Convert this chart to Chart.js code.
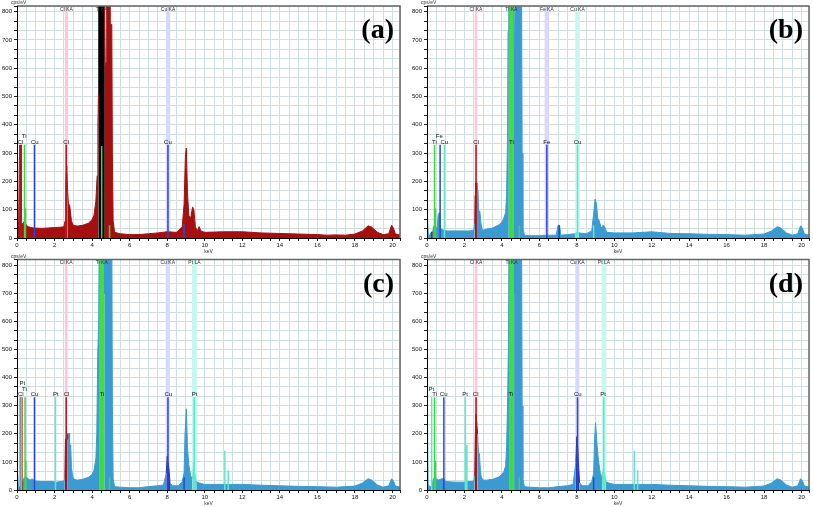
<!DOCTYPE html>
<html>
<head>
<meta charset="utf-8">
<title>EDS spectra</title>
<script src="https://cdn.jsdelivr.net/npm/chart.js@4.4.1/dist/chart.umd.min.js"></script>
<style>
  body { margin: 0; background: #fff; }
  canvas { position: absolute; }
  #pa { left: 0; top: 0; }
  #pb { left: 410px; top: 0; }
  #pc { left: 0; top: 254px; }
  #pd { left: 410px; top: 254px; }
</style>
</head>
<body>
<canvas id="pa" width="406" height="254"></canvas>
<canvas id="pb" width="403" height="254"></canvas>
<canvas id="pc" width="406" height="253"></canvas>
<canvas id="pd" width="403" height="253"></canvas>
<script>
// spectra: energy (keV) and counts (cps/eV)
const keV_a = [0, 0.01, 0.05, 0.07, 0.12, 0.2, 0.3, 0.4, 0.5, 0.6, 0.7, 0.8, 1.0, 1.3, 1.6, 2.0, 2.3, 2.5, 2.56, 2.6, 2.65, 2.7, 2.75, 2.8, 2.85, 2.9, 3.0, 3.2, 3.5, 3.8, 4.0, 4.1, 4.2, 4.27, 4.31, 4.34, 4.36, 4.66, 4.7, 4.75, 4.78, 4.95, 4.97, 5.05, 5.08, 5.12, 5.2, 5.5, 6.0, 6.5, 7.0, 7.5, 8.0, 8.5, 8.8, 8.9, 8.97, 9.02, 9.08, 9.15, 9.25, 9.35, 9.42, 9.5, 9.6, 9.7, 9.8, 10, 11, 12, 13, 14, 15, 16, 16.5, 17, 17.5, 18, 18.4, 18.7, 18.9, 19.2, 19.5, 19.8, 19.95, 20.05, 20.15, 20.4];
const cps_a = [0, 280, 280, 60, 30, 45, 50, 60, 45, 40, 38, 36, 35, 34, 35, 37, 38, 40, 60, 200, 255, 160, 110, 118, 90, 60, 45, 42, 45, 52, 65, 80, 130, 220, 400, 513, 900, 900, 600, 620, 900, 900, 755, 755, 300, 60, 20, 15, 12, 12, 15, 18, 22, 20, 40, 120, 290, 318, 160, 80, 70, 110, 100, 40, 25, 40, 25, 20, 22, 22, 18, 16, 14, 12, 10, 11, 10, 14, 25, 43, 38, 20, 12, 15, 45, 35, 15, 10];

const keV_b = [0, 0.01, 0.04, 0.07, 0.15, 0.22, 0.3, 0.35, 0.4, 0.45, 0.5, 0.55, 0.6, 0.68, 0.72, 0.8, 0.9, 1.0, 1.5, 2.0, 2.3, 2.5, 2.55, 2.57, 2.6, 2.64, 2.66, 2.72, 2.76, 2.82, 2.88, 2.95, 3.0, 3.2, 3.5, 3.8, 4.0, 4.1, 4.2, 4.25, 4.3, 4.33, 4.37, 4.64, 4.67, 4.72, 5.05, 5.08, 5.12, 5.2, 5.5, 6.0, 6.4, 6.9, 7.0, 7.08, 7.15, 7.5, 7.9, 8.0, 8.1, 8.5, 8.8, 8.92, 8.98, 9.05, 9.12, 9.2, 9.3, 9.4, 9.48, 9.6, 10, 11, 12, 13, 14, 15, 16, 17, 18, 18.4, 18.7, 18.9, 19.2, 19.5, 19.8, 19.95, 20.05, 20.15, 20.4];
const cps_b = [0, 75, 75, 10, 10, 20, 20, 40, 45, 40, 35, 40, 85, 90, 35, 30, 28, 25, 25, 25, 25, 28, 50, 150, 195, 195, 170, 170, 95, 95, 50, 30, 28, 32, 35, 45, 55, 70, 90, 150, 350, 730, 900, 900, 580, 900, 900, 300, 40, 10, 8, 8, 10, 10, 45, 45, 10, 12, 15, 22, 18, 15, 25, 100, 138, 120, 70, 60, 35, 45, 40, 20, 18, 18, 22, 16, 15, 13, 12, 10, 14, 25, 40, 35, 18, 10, 15, 43, 35, 15, 10];

const keV_c = [0, 0.01, 0.05, 0.08, 0.15, 0.25, 0.35, 0.4, 0.5, 0.6, 0.7, 0.8, 0.9, 1.0, 1.3, 1.6, 1.9, 2.1, 2.3, 2.5, 2.55, 2.58, 2.67, 2.7, 2.78, 2.8, 2.86, 2.9, 2.95, 3.0, 3.2, 3.5, 3.8, 4.0, 4.1, 4.2, 4.25, 4.3, 4.35, 4.38, 4.65, 4.68, 4.72, 5.05, 5.08, 5.12, 5.2, 5.5, 6.0, 6.5, 7.0, 7.5, 7.8, 7.95, 8.0, 8.05, 8.1, 8.15, 8.3, 8.6, 8.8, 8.9, 8.95, 9.02, 9.08, 9.15, 9.25, 9.35, 9.42, 9.47, 9.55, 9.7, 10, 11, 12, 13, 14, 15, 16, 17, 18, 18.4, 18.7, 18.9, 19.2, 19.5, 19.8, 19.95, 20.05, 20.15, 20.4];
const cps_c = [0, 60, 60, 10, 10, 15, 40, 45, 45, 40, 35, 40, 35, 32, 30, 30, 30, 28, 30, 32, 40, 181, 181, 201, 201, 160, 160, 80, 55, 40, 35, 38, 45, 55, 70, 110, 200, 480, 590, 900, 900, 700, 900, 900, 300, 40, 12, 10, 8, 8, 12, 15, 18, 60, 120, 95, 70, 25, 15, 15, 30, 60, 200, 289, 150, 90, 50, 40, 100, 60, 30, 25, 20, 20, 20, 17, 15, 13, 12, 10, 14, 25, 40, 35, 18, 10, 15, 40, 32, 15, 10];

const keV_d = [0, 0.01, 0.04, 0.06, 0.15, 0.25, 0.35, 0.4, 0.5, 0.6, 0.7, 0.8, 0.9, 1.0, 1.5, 2.0, 2.1, 2.3, 2.5, 2.55, 2.58, 2.62, 2.67, 2.7, 2.75, 2.8, 2.85, 2.9, 3.0, 3.2, 3.5, 3.8, 4.0, 4.1, 4.2, 4.25, 4.3, 4.35, 4.38, 4.65, 4.68, 4.72, 5.05, 5.08, 5.12, 5.2, 5.5, 6.0, 6.5, 7.0, 7.5, 7.8, 7.95, 8.0, 8.05, 8.1, 8.15, 8.3, 8.6, 8.8, 8.9, 8.95, 9.0, 9.08, 9.15, 9.25, 9.35, 9.42, 9.47, 9.55, 9.7, 10, 11, 12, 13, 14, 15, 16, 17, 18, 18.4, 18.7, 18.9, 19.2, 19.5, 19.8, 19.95, 20.05, 20.15, 20.4];
const cps_d = [0, 250, 250, 20, 10, 15, 40, 45, 40, 35, 38, 40, 40, 30, 28, 28, 30, 30, 32, 50, 185, 270, 270, 200, 130, 130, 70, 45, 35, 35, 38, 45, 55, 65, 85, 150, 300, 510, 900, 900, 700, 900, 900, 300, 40, 12, 10, 8, 8, 12, 15, 20, 100, 190, 150, 80, 25, 15, 15, 30, 60, 180, 240, 160, 110, 60, 45, 75, 60, 30, 25, 20, 20, 20, 17, 15, 13, 12, 10, 14, 25, 40, 35, 18, 10, 15, 40, 32, 15, 10];

// element windows (highlighted ROI bands) per panel
const winElem_a = ['Cl', 'Ti', 'Cu'];
const winName_a = ['Cl KA', 'Ti KA', 'Cu KA'];
const winLo_a = [2.55, 4.35, 7.93];
const winHi_a = [2.72, 4.67, 8.16];

const winElem_b = ['Cl', 'Ti', 'Fe', 'Cu'];
const winName_b = ['Cl KA', 'Ti KA', 'Fe KA', 'Cu KA'];
const winLo_b = [2.55, 4.36, 6.28, 7.92];
const winHi_b = [2.68, 4.65, 6.52, 8.16];

const winElem_c = ['Cl', 'Ti', 'Cu', 'Pt'];
const winName_c = ['Cl KA', 'Ti KA', 'Cu KA', 'Pt LA'];
const winLo_c = [2.55, 4.37, 7.92, 9.32];
const winHi_c = [2.69, 4.66, 8.14, 9.58];

const winElem_d = winElem_c;
const winName_d = winName_c;
const winLo_d = winLo_c;
const winHi_d = winHi_c;

// element marker lines: element, energy (keV), height (cps/eV)
const mkElem_a = ['Cl', 'Cl', 'Ti', 'Ti', 'Cu', 'Cl', 'Ti', 'Ti', 'Cu', 'Cu'];
const mkKeV_a = [0.15, 0.23, 0.40, 0.45, 0.93, 2.62, 4.51, 4.93, 8.04, 8.90];
const mkCps_a = [330, 330, 330, 105, 330, 330, 325, 45, 330, 50];

const mkElem_b = ['Cl', 'Ti', 'Ti', 'Fe', 'Cu', 'Cl', 'Ti', 'Ti', 'Fe', 'Fe', 'Cu', 'Cu'];
const mkKeV_b = [0.25, 0.40, 0.45, 0.70, 0.93, 2.62, 4.51, 4.93, 6.40, 7.06, 8.04, 8.90];
const mkCps_b = [22, 330, 105, 330, 330, 330, 330, 45, 330, 45, 330, 45];

const mkElem_c = ['Pt', 'Cl', 'Cl', 'Ti', 'Ti', 'Cu', 'Pt', 'Cl', 'Ti', 'Ti', 'Cu', 'Cu', 'Pt', 'Pt', 'Pt'];
const mkKeV_c = [0.22, 0.18, 0.26, 0.43, 0.47, 0.93, 2.05, 2.62, 4.51, 4.93, 8.04, 8.90, 9.44, 11.07, 11.25];
const mkCps_c = [330, 330, 330, 330, 105, 330, 330, 330, 330, 45, 330, 45, 330, 140, 70];

const mkElem_d = ['Pt', 'Ti', 'Ti', 'Cu', 'Pt', 'Pt', 'Cl', 'Ti', 'Ti', 'Cu', 'Cu', 'Pt', 'Pt', 'Pt'];
const mkKeV_d = [0.25, 0.40, 0.45, 0.90, 2.05, 2.13, 2.62, 4.51, 4.93, 8.04, 8.90, 9.44, 11.07, 11.25];
const mkCps_d = [330, 330, 105, 330, 330, 160, 330, 330, 45, 330, 45, 330, 140, 70];

// marker labels: text, energy, height
const lbText_a = ['Cl', 'Ti', 'Cu', 'Cl', 'Ti', 'Cu'];
const lbKeV_a = [0.18, 0.38, 0.95, 2.62, 4.51, 8.04];
const lbCps_a = [338, 360, 338, 338, 338, 338];

const lbText_b = ['Ti', 'Fe', 'Cu', 'Cl', 'Ti', 'Fe', 'Cu'];
const lbKeV_b = [0.40, 0.66, 0.92, 2.62, 4.51, 6.40, 8.04];
const lbCps_b = [338, 360, 338, 338, 338, 338, 338];

const lbText_c = ['Pt', 'Ti', 'Cl', 'Cu', 'Pt', 'Cl', 'Ti', 'Cu', 'Pt'];
const lbKeV_c = [0.28, 0.40, 0.20, 0.93, 2.07, 2.64, 4.53, 8.06, 9.46];
const lbCps_c = [378, 360, 340, 340, 340, 340, 340, 340, 340];

const lbText_d = ['Pt', 'Ti', 'Cu', 'Pt', 'Cl', 'Ti', 'Cu', 'Pt'];
const lbKeV_d = [0.23, 0.41, 0.89, 2.04, 2.60, 4.48, 8.05, 9.40];
const lbCps_d = [358, 340, 340, 340, 340, 340, 340, 340];

// colours
const RED = '#b3141e', GREEN = '#3fd83c', BLUE = '#2d45d2', CYAN = '#5ee8c9';
const styleA = {
  spectrum: '#a50f0f',
  line: { Cl: RED, Ti: GREEN, Cu: BLUE },
  fill: { Cl: '#b01818', Ti: '#000000', Cu: BLUE },
  band: { Cl: '#ffc6dc', Ti: '#000000', Cu: '#d8d8fa' }
};
const styleB = {
  spectrum: '#3a9bd3',
  line: { Cl: RED, Ti: GREEN, Fe: BLUE, Cu: CYAN },
  fill: { Cl: '#8a0d1a', Ti: '#40e03a', Fe: '#2838b0', Cu: CYAN },
  band: { Cl: '#ffc6dc', Ti: '#40e03a', Fe: '#d8d8fa', Cu: '#c6f7ee' }
};
const styleCD = {
  spectrum: '#3a9bd3',
  line: { Cl: RED, Ti: GREEN, Cu: BLUE, Pt: CYAN },
  fill: { Cl: '#8a0d1a', Ti: '#40e03a', Cu: '#2838b0', Pt: CYAN },
  band: { Cl: '#ffc6dc', Ti: '#40e03a', Cu: '#d8d8fa', Pt: '#c6f7ee' }
};

const edsDecor = {
  id: 'edsDecor',
  beforeDatasetsDraw(chart, args, o) {
    const { ctx, chartArea: a, scales: { x } } = chart;
    ctx.save();
    o.winElem.forEach((el, i) => {
      const x0 = x.getPixelForValue(o.winLo[i]);
      const x1 = x.getPixelForValue(o.winHi[i]);
      ctx.fillStyle = o.style.band[el];
      ctx.fillRect(x0, a.top, x1 - x0, a.bottom - a.top);
    });
    ctx.restore();
  },
  afterDatasetsDraw(chart, args, o) {
    const { ctx, chartArea: a, scales: { x, y } } = chart;
    ctx.save();
    // grey frame on top and right, black axes
    ctx.strokeStyle = '#666';
    ctx.lineWidth = 1.5;
    ctx.beginPath();
    ctx.moveTo(a.left, a.top);
    ctx.lineTo(a.right, a.top);
    ctx.lineTo(a.right, a.bottom);
    ctx.stroke();
    ctx.strokeStyle = '#000';
    ctx.lineWidth = 1;
    ctx.beginPath();
    ctx.moveTo(a.left + 0.5, a.top);
    ctx.lineTo(a.left + 0.5, a.bottom + 0.5);
    ctx.lineTo(a.right, a.bottom + 0.5);
    ctx.stroke();

    ctx.textAlign = 'center';
    ctx.textBaseline = 'middle';
    ctx.font = '5px "Liberation Sans"';
    ctx.fillStyle = '#333';
    o.winName.forEach((n, i) => {
      ctx.fillText(n, x.getPixelForValue((o.winLo[i] + o.winHi[i]) / 2), a.top + 3.5);
    });

    ctx.font = '6px "Liberation Sans"';
    ctx.fillStyle = '#111';
    o.lbText.forEach((t, i) => {
      ctx.fillText(t, x.getPixelForValue(o.lbKeV[i]), y.getPixelForValue(o.lbCps[i]));
    });

    ctx.font = '5px "Liberation Sans"';
    ctx.fillStyle = '#333';
    ctx.textAlign = 'left';
    ctx.fillText('cps/eV', a.left - 6, a.top - 3);
    ctx.textAlign = 'center';
    ctx.fillText('keV', (a.left + a.right) / 2, a.bottom + 14);

    ctx.font = 'bold 28px "Liberation Serif"';
    ctx.fillStyle = '#000';
    ctx.textAlign = 'right';
    ctx.textBaseline = 'alphabetic';
    ctx.fillText(o.tag, a.right - 6, a.top + 32);
    ctx.restore();
  }
};

function makePanel(id, p) {
  const pts = p.keV.map((k, i) => ({ x: k, y: p.cps[i] }));

  function windowColor(c) {
    const m = (c.p0.parsed.x + c.p1.parsed.x) / 2;
    for (let i = 0; i < p.winElem.length; i++) {
      if (m >= p.winLo[i] && m <= p.winHi[i]) return p.style.fill[p.winElem[i]];
    }
    return undefined;
  }

  const spectrum = {
    data: pts,
    backgroundColor: p.style.spectrum,
    borderColor: p.style.spectrum,
    borderWidth: 1,
    fill: 'origin',
    pointRadius: 0,
    tension: 0,
    order: 5,
    segment: { backgroundColor: windowColor, borderColor: windowColor }
  };

  // one dataset of vertical marker lines per element
  const elems = [...new Set(p.mkElem)];
  const markerSets = elems.map(el => {
    const data = [];
    p.mkElem.forEach((e, i) => {
      if (e !== el) return;
      data.push({ x: p.mkKeV[i], y: 0 }, { x: p.mkKeV[i], y: p.mkCps[i] }, { x: p.mkKeV[i], y: null });
    });
    return {
      data,
      borderColor: p.style.line[el],
      borderWidth: 1.5,
      pointRadius: 0,
      fill: false,
      spanGaps: false,
      order: 1
    };
  });

  const fontTick = { size: 6, family: 'Liberation Sans' };

  new Chart(document.getElementById(id), {
    type: 'line',
    data: { datasets: [spectrum, ...markerSets] },
    options: {
      responsive: false,
      animation: false,
      events: [],
      layout: { padding: { top: p.padTop, right: p.padRight, left: 0, bottom: 0 } },
      plugins: {
        legend: { display: false },
        tooltip: { enabled: false },
        edsDecor: {
          tag: p.tag, style: p.style,
          winElem: p.winElem, winName: p.winName, winLo: p.winLo, winHi: p.winHi,
          lbText: p.lbText, lbKeV: p.lbKeV, lbCps: p.lbCps
        }
      },
      scales: {
        x: {
          type: 'linear',
          min: 0,
          max: 20.4,
          bounds: 'data',
          afterFit: s => { s.height = p.xAxisH; },
          grid: { color: '#cfdfe2', lineWidth: 1, tickLength: 3, tickColor: '#222' },
          border: { color: '#000', width: 1 },
          ticks: {
            stepSize: 0.5,
            autoSkip: false,
            maxRotation: 0,
            padding: 1,
            color: '#111',
            font: fontTick,
            callback: v => {
              const r = Math.round(v);
              return (Math.abs(v - r) < 1e-6 && r % 2 === 0 && r <= 20) ? String(r) : '';
            }
          }
        },
        y: {
          min: 0,
          max: 820,
          bounds: 'data',
          afterFit: s => { s.width = 17; },
          grid: { color: '#cfdfe2', lineWidth: 1, tickLength: 3, tickColor: '#222' },
          border: { color: '#000', width: 1 },
          ticks: {
            stepSize: 100 / 3,
            autoSkip: false,
            padding: 2,
            color: '#111',
            font: fontTick,
            callback: v => {
              const r = Math.round(v);
              return (Math.abs(v - r) < 0.01 && r % 100 === 0 && r <= 800) ? String(r) : '';
            }
          }
        }
      }
    },
    plugins: [edsDecor]
  });
}

makePanel('pa', {
  tag: '(a)', keV: keV_a, cps: cps_a, style: styleA,
  winElem: winElem_a, winName: winName_a, winLo: winLo_a, winHi: winHi_a,
  mkElem: mkElem_a, mkKeV: mkKeV_a, mkCps: mkCps_a,
  lbText: lbText_a, lbKeV: lbKeV_a, lbCps: lbCps_a,
  padTop: 6, padRight: 6, xAxisH: 16
});
makePanel('pb', {
  tag: '(b)', keV: keV_b, cps: cps_b, style: styleB,
  winElem: winElem_b, winName: winName_b, winLo: winLo_b, winHi: winHi_b,
  mkElem: mkElem_b, mkKeV: mkKeV_b, mkCps: mkCps_b,
  lbText: lbText_b, lbKeV: lbKeV_b, lbCps: lbCps_b,
  padTop: 6, padRight: 4, xAxisH: 16
});
makePanel('pc', {
  tag: '(c)', keV: keV_c, cps: cps_c, style: styleCD,
  winElem: winElem_c, winName: winName_c, winLo: winLo_c, winHi: winHi_c,
  mkElem: mkElem_c, mkKeV: mkKeV_c, mkCps: mkCps_c,
  lbText: lbText_c, lbKeV: lbKeV_c, lbCps: lbCps_c,
  padTop: 4, padRight: 6, xAxisH: 17
});
makePanel('pd', {
  tag: '(d)', keV: keV_d, cps: cps_d, style: styleCD,
  winElem: winElem_d, winName: winName_d, winLo: winLo_d, winHi: winHi_d,
  mkElem: mkElem_d, mkKeV: mkKeV_d, mkCps: mkCps_d,
  lbText: lbText_d, lbKeV: lbKeV_d, lbCps: lbCps_d,
  padTop: 4, padRight: 4, xAxisH: 17
});
</script>
</body>
</html>
